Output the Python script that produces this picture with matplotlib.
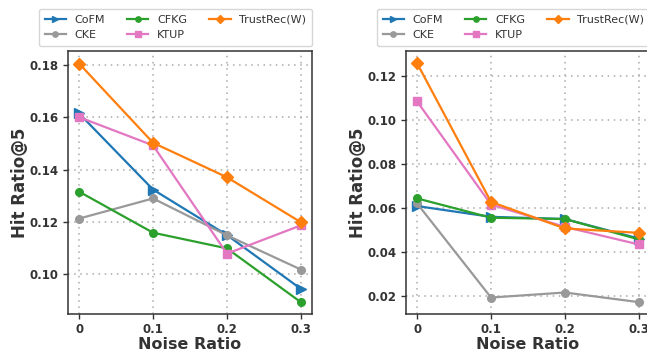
import matplotlib
matplotlib.use("Agg")
import matplotlib.pyplot as plt

x = [0, 0.1, 0.2, 0.3]
xticklabels = ["0", "0.1", "0.2", "0.3"]
methods = ["CoFM", "CKE", "CFKG", "KTUP", "TrustRec(W)"]

left_vals = {
    "CoFM": [0.1615, 0.1324, 0.1150, 0.0944],
    "CKE": [0.1213, 0.1290, 0.1149, 0.1018],
    "CFKG": [0.1316, 0.1159, 0.1099, 0.0893],
    "KTUP": [0.1601, 0.1493, 0.1079, 0.1187],
    "TrustRec(W)": [0.1806, 0.1503, 0.1371, 0.1199],
}
right_vals = {
    "CoFM": [0.0608, 0.0559, 0.0549, 0.0460],
    "CKE": [0.0620, 0.0191, 0.0214, 0.0170],
    "CFKG": [0.0643, 0.0555, 0.0549, 0.0456],
    "KTUP": [0.1085, 0.0615, 0.0513, 0.0433],
    "TrustRec(W)": [0.1259, 0.0627, 0.0506, 0.0486],
}
left_yticks = [0.10, 0.12, 0.14, 0.16, 0.18]
right_yticks = [0.02, 0.04, 0.06, 0.08, 0.10, 0.12]

colors = {"CoFM": "#1f77b4", "CKE": "#999999", "CFKG": "#2ca02c",
          "KTUP": "#e377c2", "TrustRec(W)": "#ff7f0e"}
markers = {"CoFM": ">", "CKE": "o", "CFKG": "o", "KTUP": "s", "TrustRec(W)": "D"}
msizes = {"CoFM": 6.5, "CKE": 5.5, "CFKG": 5.5, "KTUP": 6, "TrustRec(W)": 6.5}

TXT = "#333333"
plt.rcParams['font.family'] = ['DejaVu Sans']

fig = plt.figure(figsize=(6.47, 3.55), dpi=100)
W, H = 647, 355
ax1 = fig.add_axes([68 / W, 1 - 314 / H, 244 / W, 263 / H])
ax2 = fig.add_axes([406 / W, 1 - 314 / H, 244 / W, 263 / H])

for ax, vals, yt, ylim in [(ax1, left_vals, left_yticks, (0.0848, 0.1854)),
                           (ax2, right_vals, right_yticks, (0.0116, 0.1315))]:
    for m in methods:
        ax.plot(x, vals[m], color=colors[m], marker=markers[m], markersize=msizes[m],
                linewidth=1.6, label=m)
    ax.set_xlim(-0.015, 0.315)
    ax.set_ylim(*ylim)
    ax.set_xticks(x)
    ax.set_xticklabels(xticklabels)
    ax.set_yticks(yt)
    ax.set_yticklabels([f"{v:.2f}" for v in yt])
    for lab in ax.get_xticklabels() + ax.get_yticklabels():
        lab.set_fontweight("bold")
        lab.set_fontsize(8.5)
        lab.set_color(TXT)
    ax.tick_params(axis="both", colors=TXT, length=3.5, width=1, pad=3)
    ax.grid(True, linestyle=(0, (1, 3)), color="#aaaaaa", linewidth=1.1)
    ax.set_axisbelow(True)
    for s in ax.spines.values():
        s.set_color(TXT)
        s.set_linewidth(1.1)
    ax.set_xlabel("Noise Ratio", fontsize=11.5, fontweight="bold", color=TXT, labelpad=1)
    ax.set_ylabel("Hit Ratio@5", fontsize=12, fontweight="bold", color=TXT)
    ax.yaxis.label.set_va("center")
    ax.yaxis.set_label_coords(-0.197, 0.5)
    leg = ax.legend(loc="lower right", bbox_to_anchor=(1.0, 1.02), ncol=3,
                    fontsize=8, frameon=True, handlelength=1.9, markerscale=0.7,
                    columnspacing=2.0, handletextpad=0.8, labelspacing=0.5,
                    borderaxespad=0.0, borderpad=0.5)
    leg.get_frame().set_edgecolor("#cccccc")
    for t in leg.get_texts():
        t.set_color(TXT)

fig.savefig("out.png", dpi=100)
